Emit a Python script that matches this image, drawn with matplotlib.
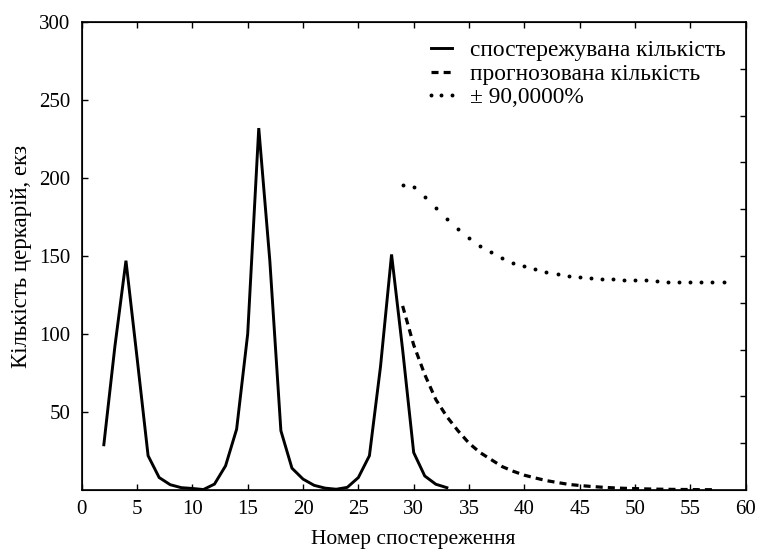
import matplotlib
matplotlib.use("Agg")
import matplotlib.pyplot as plt

plt.rcParams['font.family'] = ['Liberation Serif', 'DejaVu Serif']

# observed counts
obs_x = list(range(2, 34))
obs_y = [29, 92, 147, 85, 22, 8, 3.4, 1.5, 1.0, 0.3, 3.8, 15.5, 39, 100, 232, 147,
         38, 14, 7, 3, 1.2, 0.5, 1.7, 8, 22, 79, 151, 90, 24, 9, 3.7, 1.5]

# forecast
fc_x = list(range(29, 58))
fc_y = [118, 93, 74, 58, 47, 38, 30, 24, 19.5, 15, 12, 9.5, 7.7, 6, 4.8, 3.6,
        2.9, 2.3, 1.8, 1.4, 1.1, 0.9, 0.7, 0.55, 0.45, 0.35, 0.3, 0.2, 0.2]

# upper 90% bound
up_x = list(range(29, 59))
up_y = [195.5, 194.3, 188, 180.7, 173.9, 167.5, 161.3, 156.7, 152.4, 148.8,
        145.7, 143.3, 141.4, 139.5, 138.4, 137.1, 136.3, 136.1, 135.2, 135.2,
        134.6, 134.6, 134.4, 133.8, 133.6, 133.6, 133.6, 133.5, 133.5, 133.5]

labels = ['спостережувана кількість', 'прогнозована кількість', '± 90,0000%']
x_ticks = list(range(0, 61, 5))
y_ticks = list(range(50, 301, 50))
right_ticks = list(range(30, 300, 30))

fig = plt.figure(figsize=(7.62, 5.54), dpi=100)
ax = fig.add_axes([0.1072, 0.1155, 0.8714, 0.8448])

ax.plot(obs_x, obs_y, color='black', lw=2.1, solid_joinstyle='miter', label=labels[0])
ax.plot(fc_x, fc_y, color='black', lw=2.3, dashes=(2.2, 1.6), label=labels[1])
ax.plot(up_x, up_y, linestyle='none', marker='o', markersize=1.8, color='black', label=labels[2])

ax.set_xlim(0, 60)
ax.set_ylim(0, 300)
ax.set_xticks(x_ticks)
ax.set_yticks(y_ticks)
ax.tick_params(direction='in', length=4, width=1, labelsize=15, top=True)
ax.tick_params(axis='x', pad=7)
ax.tick_params(axis='y', pad=8)
for s in ax.spines.values():
    s.set_linewidth(1.2)

ax2 = ax.twinx()
ax2.set_ylim(0, 300)
ax2.set_yticks(right_ticks)
ax2.tick_params(direction='in', length=4, width=1, labelright=False)

ax.set_xlabel('Номер спостереження', fontsize=15.5, labelpad=8)
ax.set_ylabel('Кількість церкарій, екз', fontsize=16.5, labelpad=5)

ax.legend(loc='upper left', bbox_to_anchor=(0.501, 0.982), frameon=False,
          fontsize=16.8, numpoints=3, handlelength=1.5, handletextpad=0.5,
          labelspacing=0.1, borderaxespad=0)

fig.savefig('out.png', dpi=100)
